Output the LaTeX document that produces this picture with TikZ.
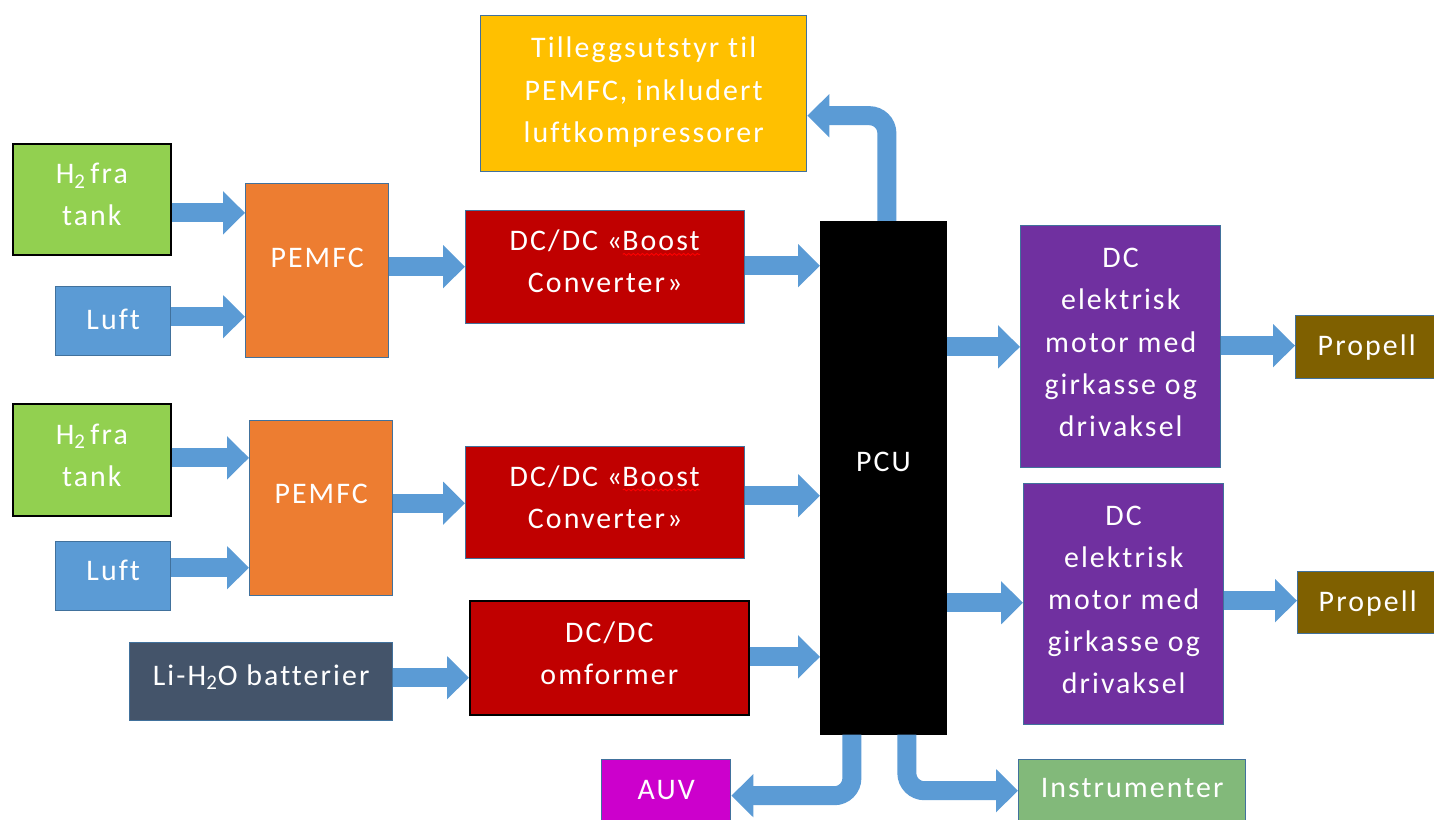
\documentclass[tikz,border=0pt]{standalone}
\usepackage{fontspec}
\setmainfont{Carlito}[LetterSpace=7, Ligatures=NoCommon]
\usetikzlibrary{arrows.meta,decorations.pathmorphing}

\definecolor{edgeblue}{HTML}{41719C}
\definecolor{flowblue}{HTML}{5B9BD5}
\definecolor{h2green}{HTML}{92D050}
\definecolor{airblue}{HTML}{5B9BD5}
\definecolor{fcorange}{HTML}{ED7D31}
\definecolor{convred}{HTML}{C00000}
\definecolor{auxyellow}{HTML}{FFC000}
\definecolor{battslate}{HTML}{44546A}
\definecolor{motorpurple}{HTML}{7030A0}
\definecolor{propbrown}{HTML}{7F6000}
\definecolor{auvmagenta}{HTML}{CC00CC}
\definecolor{instrgreen}{HTML}{82B97A}

% word with a red wavy underline
\newcommand\wavyword[1]{\sbox0{#1}\rlap{\usebox0}%
  \tikz[baseline=0pt]\draw[red, fill=none, line width=0.5pt, decorate,
        decoration={snake, amplitude=0.55pt, segment length=2.6pt}]
    (0pt,-2.2pt) -- (\wd0,-2.2pt);}

% centred block of lines, optionally lifted
\newcommand\tx[2][0pt]{\raisebox{#1}[\height][\depth]{\begin{tabular}{@{}c@{}}#2\end{tabular}}}

% hydrogen with a subscript two
\newcommand\hyd{H\textsubscript{2}}

\tikzset{
  box/.style={draw=edgeblue, line width=0.8pt, text=white,
    inner sep=0pt, anchor=north west,
    font=\fontsize{17}{24}\selectfont},
  darkedge/.style={draw=black, line width=1pt},
  barrow/.style={draw=flowblue, line width=0.38cm, line cap=butt,
    rounded corners=0.35cm,
    -{Triangle[length=0.44cm, width=0.84cm, fill=flowblue]}},
}

% straight block arrow from the east side of one node to the west side of another
\newcommand\flow[3]{\draw[barrow] ([yshift=#2]#1.east) coordinate (fl) -- (fl -| #3.west);}

\begin{document}
\begin{tikzpicture}[x=0.02cm, y=-0.02cm]
  \useasboundingbox[fill=white] (0,0) rectangle (1434,820);

  % sources
  \node[box, darkedge, fill=h2green, minimum width=3.16cm, minimum height=2.22cm] (h2a) at (12,143) {\tx[0.06cm]{\hyd\hspace{0.15em}fra\\tank}};
  \node[box, fill=airblue, minimum width=2.3cm, minimum height=1.38cm] (lufta) at (55,286) {\tx{Luft}};
  \node[box, darkedge, fill=h2green, minimum width=3.16cm, minimum height=2.24cm] (h2b) at (12,403) {\tx[0.06cm]{\hyd\hspace{0.15em}fra\\tank}};
  \node[box, fill=airblue, minimum width=2.3cm, minimum height=1.38cm] (luftb) at (55,541) {\tx[0.08cm]{Luft}};
  \node[box, fill=battslate, minimum width=5.26cm, minimum height=1.56cm] (batt) at (129,642) {\tx[0.1cm]{Li-\hyd O batterier}};

  % fuel cells
  \node[box, fill=fcorange, minimum width=2.86cm, minimum height=3.48cm] (pemfca) at (245,183) {\tx[0.24cm]{PEMFC}};
  \node[box, fill=fcorange, minimum width=2.86cm, minimum height=3.5cm] (pemfcb) at (249,420) {\tx[0.26cm]{PEMFC}};

  % converters
  \node[box, fill=convred, minimum width=5.58cm, minimum height=2.26cm] (boosta) at (465,210) {\tx[0.08cm]{DC/DC «\wavyword{Boost}\\Converter»}};
  \node[box, fill=convred, minimum width=5.58cm, minimum height=2.24cm] (boostb) at (465,446) {\tx[0.08cm]{DC/DC «\wavyword{Boost}\\Converter»}};
  \node[box, darkedge, fill=convred, minimum width=5.58cm, minimum height=2.28cm] (omf) at (469,600) {\tx[0.06cm]{DC/DC\\omformer}};

  % auxiliary equipment
  \node[box, fill=auxyellow, minimum width=6.52cm, minimum height=3.12cm] (till) at (480,15) {\tx[0.04cm]{Tilleggsutstyr til\\PEMFC, inkludert\\luftkompressorer}};

  % power control unit
  \node[box, darkedge, fill=black, minimum width=2.5cm, minimum height=10.24cm] (pcu) at (820,221) {\tx[0.3cm]{PCU}};

  % motors and propellers
  \node[box, fill=motorpurple, minimum width=4cm, minimum height=4.84cm] (mota) at (1020,225) {\tx[0.06cm]{DC\\elektrisk\\motor med\\girkasse og\\drivaksel}};
  \node[box, fill=motorpurple, minimum width=4cm, minimum height=4.82cm] (motb) at (1023,483) {\tx[0.06cm]{DC\\elektrisk\\motor med\\girkasse og\\drivaksel}};
  \node[box, fill=propbrown, minimum width=2.84cm, minimum height=1.26cm] (propa) at (1295,315) {\tx{Propell}};
  \node[box, fill=propbrown, minimum width=2.8cm, minimum height=1.24cm] (propb) at (1297,571) {\tx{Propell}};

  % loads below the PCU
  \node[box, fill=auvmagenta, minimum width=2.58cm, minimum height=1.24cm] (auv) at (601,759) {\tx{AUV}};
  \node[box, fill=instrgreen, minimum width=4.54cm, minimum height=1.24cm] (instr) at (1018,759) {\tx[0.04cm]{Instrumenter}};

  % straight flows
  \flow{h2a}{-0.27cm}{pemfca}
  \flow{lufta}{0.09cm}{pemfca}
  \flow{pemfca}{0.08cm}{boosta}
  \flow{boosta}{0.03cm}{pcu}
  \flow{h2b}{0.04cm}{pemfcb}
  \flow{luftb}{0.17cm}{pemfcb}
  \flow{pemfcb}{0.1cm}{boostb}
  \flow{boostb}{0.14cm}{pcu}
  \flow{batt}{0.08cm}{omf}
  \flow{omf}{0.02cm}{pcu}
  \flow{pcu}{2.62cm}{mota}
  \flow{pcu}{-2.5cm}{motb}
  \flow{mota}{0.02cm}{propa}
  \flow{motb}{0.07cm}{propb}

  % bent flows out of the PCU
  \path ([yshift=-0.44cm]till.east) coordinate (tillin)
        ([xshift=0.07cm]pcu.north) coordinate (pcutop)
        ([yshift=-0.1cm]auv.east) coordinate (auvin)
        ([xshift=-0.63cm]pcu.south) coordinate (pcubl)
        (instr.west) coordinate (instrin)
        ([xshift=0.47cm]pcu.south) coordinate (pcubr);
  \draw[barrow] (pcutop) -- (pcutop |- tillin) -- (tillin);
  \draw[barrow] (pcubl) -- (pcubl |- auvin) -- (auvin);
  \draw[barrow] (pcubr) -- (pcubr |- instrin) -- (instrin);
\end{tikzpicture}
\end{document}
